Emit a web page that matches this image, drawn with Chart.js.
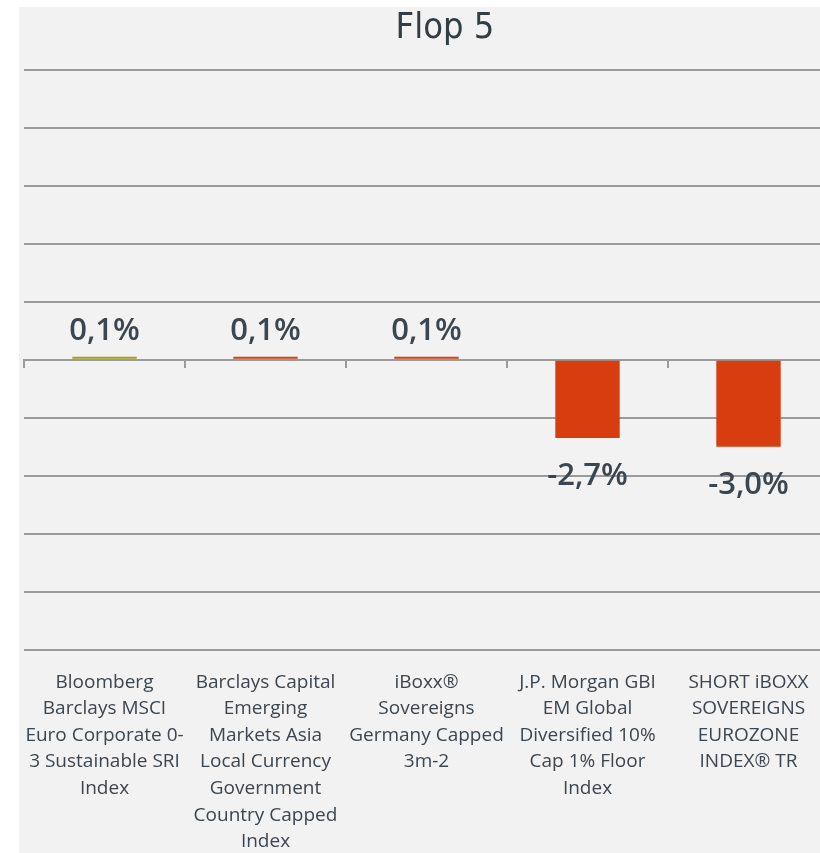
<!DOCTYPE html>
<html>
<head>
<meta charset="utf-8">
<script src="https://cdn.jsdelivr.net/npm/chart.js@4.4.1/dist/chart.umd.min.js"></script>
<style>
    html, body { margin: 0; padding: 0; background: #fff; overflow: hidden; }
    #box { position: absolute; left: 19px; top: 7px; width: 852px; height: 870px; background: #f2f2f2; }
</style>
</head>
<body>
<div id="box"><canvas id="flop" width="852" height="867"></canvas></div>
<script>
// chart data
const categories = [
    ["Bloomberg", "Barclays MSCI", "Euro Corporate 0-", "3 Sustainable SRI", "Index"],
    ["Barclays Capital", "Emerging", "Markets Asia", "Local Currency", "Government", "Country Capped", "Index"],
    ["iBoxx®", "Sovereigns", "Germany Capped", "3m-2"],
    ["J.P. Morgan GBI", "EM Global", "Diversified 10%", "Cap 1% Floor", "Index"],
    ["SHORT iBOXX", "SOVEREIGNS", "EUROZONE", "INDEX® TR"]
];
const values = [0.1, 0.1, 0.1, -2.7, -3.0];
const barColors = ["#a7a00b", "#d73d0f", "#d73d0f", "#d73d0f", "#d73d0f"];
const yMin = -10, yMax = 10, yStep = 2;

const textColor = "#3b4650";

// value labels above / below each bar
const valueLabels = {
    id: "valueLabels",
    afterDatasetsDraw(chart) {
        const ctx = chart.ctx;
        const meta = chart.getDatasetMeta(0);
        ctx.save();
        ctx.fillStyle = textColor;
        ctx.font = "600 31px 'Open Sans'";
        ctx.textAlign = "center";
        ctx.textBaseline = "alphabetic";
        meta.data.forEach(function (bar, i) {
            const v = values[i];
            const txt = v.toFixed(1).replace(".", ",") + "%";
            if (v >= 0) {
                ctx.fillText(txt, bar.x, bar.y - 17);
            } else {
                ctx.fillText(txt, bar.x, bar.y + 47);
            }
        });
        ctx.restore();
    }
};

new Chart(document.getElementById("flop"), {
    type: "bar",
    data: {
        labels: categories,
        datasets: [
            {
                data: values,
                backgroundColor: barColors,
                borderWidth: 0,
                barPercentage: 0.8,
                categoryPercentage: 0.5,
                xAxisID: "x",
                yAxisID: "y"
            }
        ]
    },
    options: {
        responsive: false,
        animation: false,
        devicePixelRatio: 1,
        layout: {
            padding: { left: 5, right: 5, top: 0, bottom: 0 }
        },
        plugins: {
            legend: { display: false },
            tooltip: { enabled: false },
            title: {
                display: true,
                text: "Flop 5",
                color: "#333d44",
                font: { family: "'DejaVu Sans Condensed', 'Liberation Sans Narrow', 'Open Sans'", size: 36, weight: "normal", lineHeight: 1.1 },
                padding: { top: 2, bottom: 21 }
            }
        },
        scales: {
            x: {
                position: "bottom",
                grid: { display: false, drawTicks: false },
                border: { display: false },
                ticks: {
                    autoSkip: false,
                    maxRotation: 0,
                    padding: 19,
                    color: textColor,
                    font: { family: "'Open Sans'", size: 19, lineHeight: 1.4 }
                },
                afterFit: function (scale) { scale.paddingLeft = 0; scale.paddingRight = 0; }
            },
            x2: {
                type: "category",
                position: { y: 0 },
                grid: { drawOnChartArea: false, drawTicks: true, tickLength: 7, color: "#9b9b9b", lineWidth: 2 },
                border: { display: true, color: "#9b9b9b", width: 2 },
                ticks: { display: false },
                afterFit: function (scale) { scale.paddingLeft = 0; scale.paddingRight = 0; }
            },
            y: {
                min: yMin,
                max: yMax,
                ticks: { display: false, stepSize: yStep },
                grid: { color: "#9b9b9b", lineWidth: 2, drawTicks: false },
                border: { display: false },
                afterFit: function (scale) { scale.width = 0; }
            },
            y2: {
                position: "right",
                min: yMin,
                max: yMax,
                ticks: { display: false },
                grid: { drawOnChartArea: false, drawTicks: false },
                border: { display: false },
                afterFit: function (scale) { scale.width = 37; }
            }
        }
    },
    plugins: [valueLabels]
});
</script>
</body>
</html>
